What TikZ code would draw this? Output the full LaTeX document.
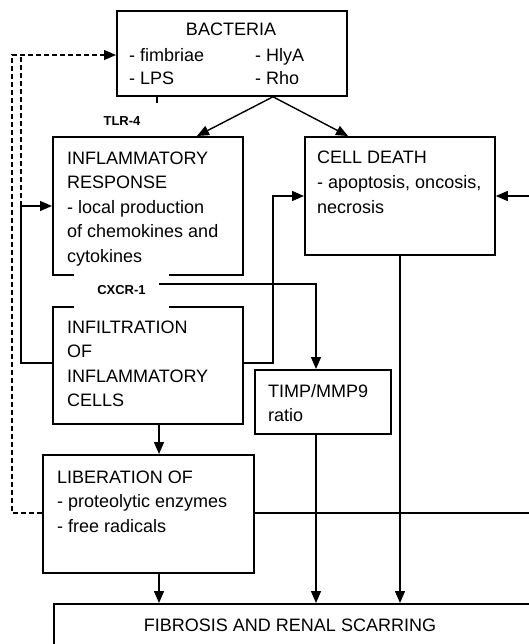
\documentclass[tikz,border=0pt]{standalone}
\usepackage{fontspec}
\setmainfont{Liberation Sans}
\usetikzlibrary{arrows.meta}
\begin{document}
\begin{tikzpicture}[x=1pt,y=-1pt,
  box/.style={draw, line width=1.8pt, rectangle, inner sep=0pt, anchor=north west},
  txt/.style={inner sep=0pt, align=left, font=\fontsize{18}{24.5}\selectfont},
  lbl/.style={inner sep=0pt, font=\fontsize{13}{15}\selectfont\bfseries},
  conn/.style={line width=1.4pt},
  arr/.style={conn, -{Triangle[length=12pt,width=10pt]}},
  dashline/.style={line width=1.3pt, dash pattern=on 5pt off 3pt}
]
\useasboundingbox (0,0) rectangle (529,644);
% boxes
\node[box, minimum width=230, minimum height=85] (bac) at (116,10) {};
\node[box, minimum width=190, minimum height=138] (infl) at (52,136) {};
\node[box, minimum width=190, minimum height=118] (cd) at (304,136) {};
\node[box, minimum width=190, minimum height=117] (infi) at (52,306) {};
\node[box, minimum width=136, minimum height=64] (timp) at (254,369) {};
\node[box, minimum width=211, minimum height=118] (lib) at (42,454) {};
\node[box, minimum width=520, minimum height=70] (fib) at (53,603) {};
% texts (anchor base = baseline of last line)
\node[txt, anchor=base] (tbac) at (231,36) {BACTERIA};
\node[txt, anchor=base west] (tbac1) at (129,85) {- fimbriae\\[-1.5pt]- LPS};
\node[txt, anchor=base west] (tbac2) at (255,85) {- HlyA\\[-1.5pt]- Rho};
\node[txt, anchor=base west] (tinfl) at (67,262) {INFLAMMATORY\\RESPONSE\\- local production\\of chemokines and\\cytokines};
\node[txt, anchor=base west] (tcd) at (317,213) {CELL DEATH\\- apoptosis, oncosis,\\necrosis};
\node[txt, anchor=base west] (tinfi) at (67,406.5) {INFILTRATION\\OF\\INFLAMMATORY\\CELLS};
\node[txt, anchor=base west] (ttimp) at (268,421.5) {TIMP/MMP9\\ratio};
\node[txt, anchor=base west] (tlib) at (57,532) {LIBERATION OF\\- proteolytic enzymes\\- free radicals};
\node[txt, anchor=base] (tfib) at (290,631) {FIBROSIS AND RENAL SCARRING};
% labels
\node[lbl] (tlr) at (122,121) {TLR-4};
\node[lbl, fill=white, minimum width=95, minimum height=35] (cxcr) at (121.5,290) {CXCR-1};
% helper coordinates
\coordinate (x12) at (12,0);
\coordinate (x21) at (21,0);
\coordinate (x157) at (157,0);
\coordinate (x159) at (159,0);
\coordinate (x197) at (197,0);
\coordinate (x273) at (273,0);
\coordinate (x316) at (316,0);
\coordinate (x348) at (348,0);
\coordinate (x400) at (400,0);
\coordinate (x536) at (536,0);
\coordinate (y55) at (0,55);
\coordinate (y196) at (0,196);
\coordinate (y206) at (0,206);
\coordinate (y363) at (0,363);
\coordinate (y513) at (0,513);
\coordinate (tick) at (157,103);
\coordinate (cx) at (159,284);
% connectors
\draw[arr] (bac.south -| x273) -- (infl.north -| x197);
\draw[arr] (bac.south -| x273) -- (cd.north -| x348);
\draw[conn] (bac.south -| x157) -- (tick);
\draw[arr] (infi.west |- y363) -- (x21 |- y363) -- (x21 |- y206) -- (infl.west |- y206);
\draw[arr] (infi.east |- y363) -- (x273 |- y363) -- (x273 |- y196) -- (cd.west |- y196);
\draw[dashline] (x21 |- y206) -- (x21 |- y55);
\draw[dashline, -{Triangle[length=12pt,width=10pt]}] (lib.west |- y513) -- (x12 |- y513) -- (x12 |- y55) -- (bac.west |- y55);
\draw[arr] (lib.east |- y513) -- (x536 |- y513) -- (x536 |- y196) -- (cd.east |- y196);
\draw[arr] (cx) -- (x316 |- cx) -- (timp.north -| x316);
\draw[arr] (infi.south -| x159) -- (lib.north -| x159);
\draw[arr] (lib.south -| x159) -- (fib.north -| x159);
\draw[arr] (timp.south -| x316) -- (fib.north -| x316);
\draw[arr] (cd.south -| x400) -- (fib.north -| x400);
\end{tikzpicture}
\end{document}
